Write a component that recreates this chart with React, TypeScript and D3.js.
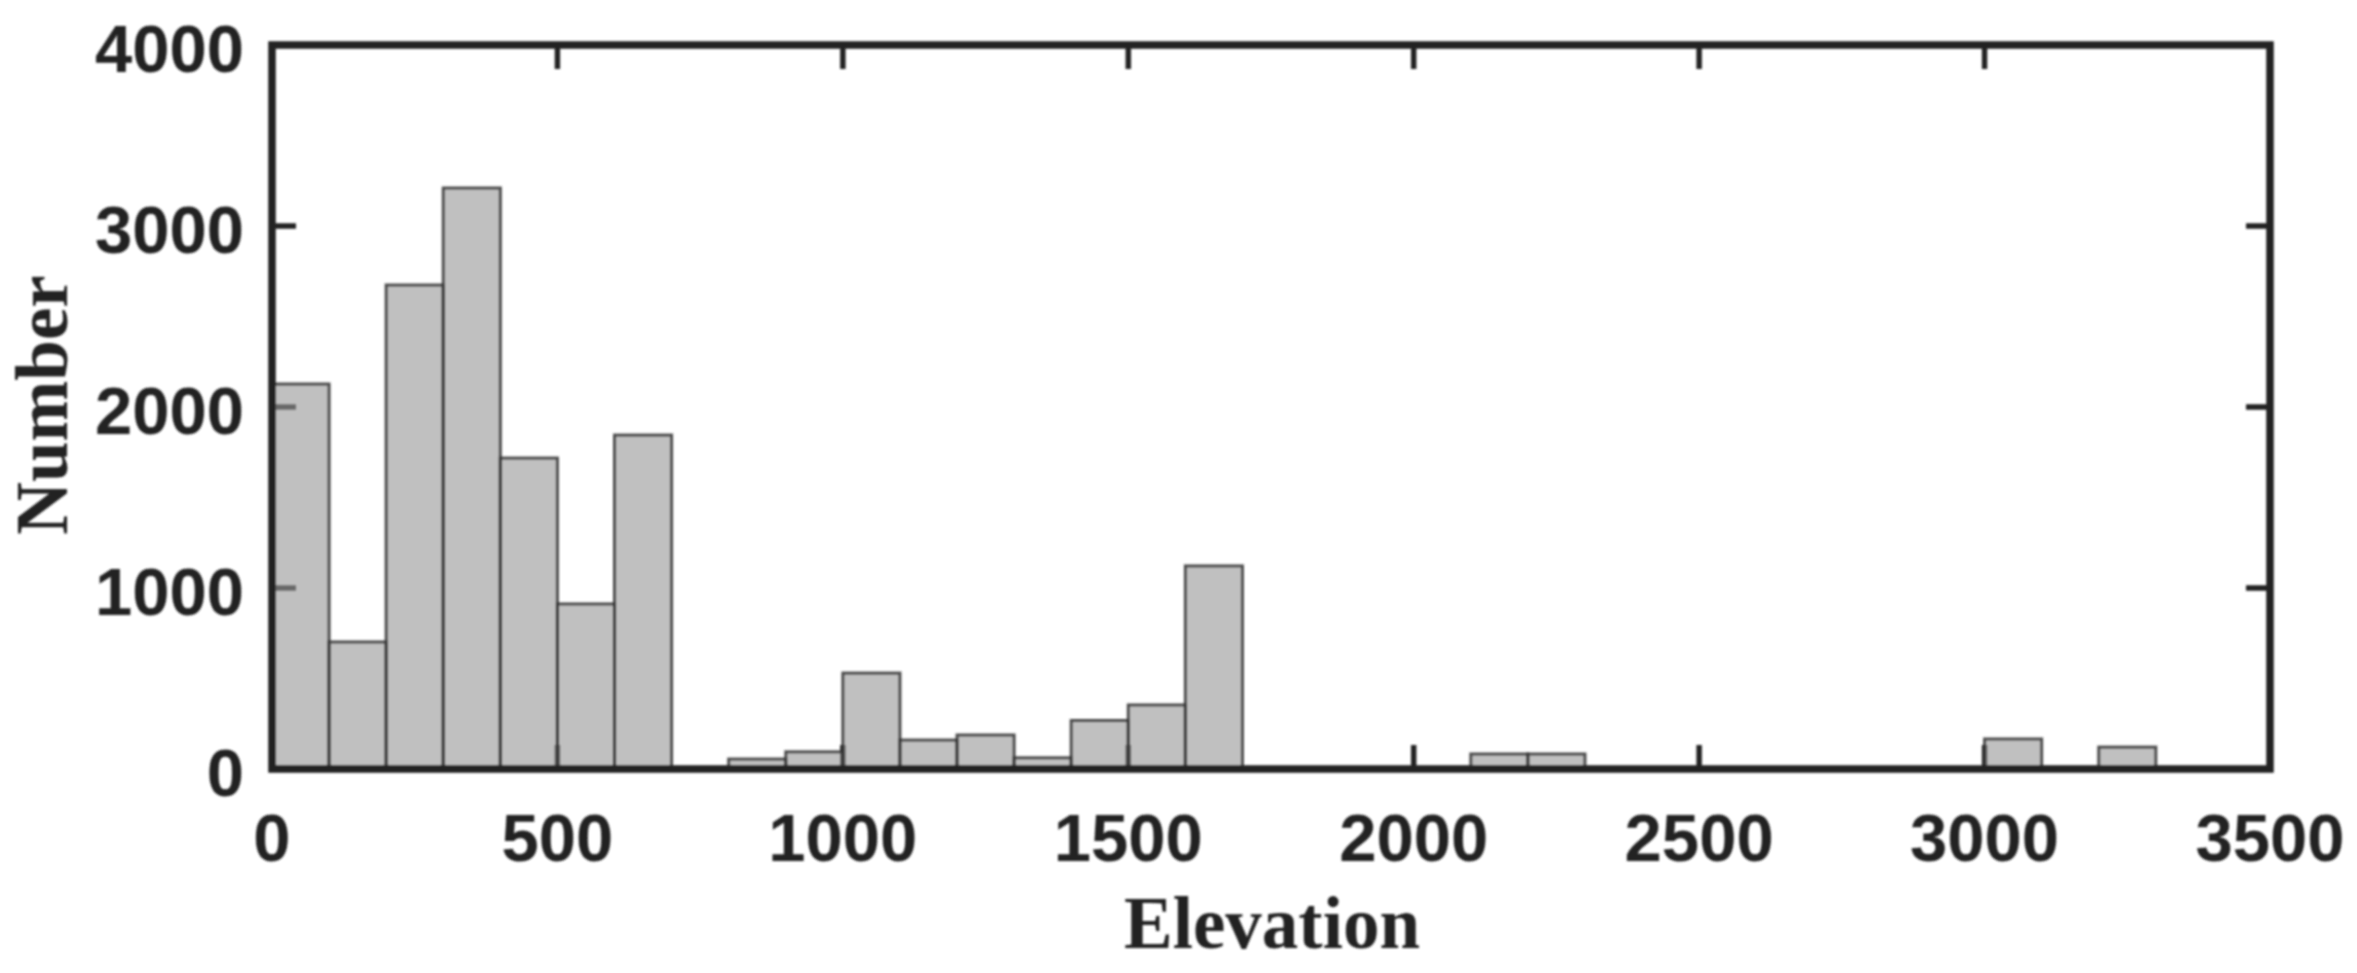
import React from "react";
import * as d3 from "d3";

const width = 2357;
const height = 973;

// histogram, one count per 100 m bin starting at 0
const binWidth = 100;
const counts = [
  2127, 702, 2674, 3210, 1718, 912, 1845, 0, 55, 95, 530, 160, 188, 62, 268, 354, 1122,
  0, 0, 0, 0, 83, 83, 0, 0, 0, 0, 0, 0, 0, 166, 0, 121,
];
const xTicks = [0, 500, 1000, 1500, 2000, 2500, 3000, 3500];
const yTicks = [0, 1000, 2000, 3000, 4000];

const tickFont = '"Liberation Sans", Arial, sans-serif';
const labelFont = '"Liberation Serif", "Times New Roman", serif';
const ink = "#222";

const App: React.FC = () => {
  const x = d3.scaleLinear().domain([0, 3500]).range([272, 2270]);
  const y = d3.scaleLinear().domain([0, 4000]).range([769, 45]);
  const tickLen = 24;

  return (
    <svg
      width={width}
      height={height}
      style={{ position: "absolute", left: 0, top: 0, background: "#fff" }}
    >
      <defs>
        <filter id="soft" x="-2%" y="-2%" width="104%" height="104%">
          <feGaussianBlur stdDeviation="0.8" />
        </filter>
      </defs>
      <g filter="url(#soft)">
        {/* ticks go under the bars, they show through the transparent fill */}
        {xTicks.slice(1, -1).map((t) => (
          <g key={t} stroke={ink} strokeWidth={5.5}>
            <line x1={x(t)} x2={x(t)} y1={y(0)} y2={y(0) - tickLen} />
            <line x1={x(t)} x2={x(t)} y1={y(4000)} y2={y(4000) + tickLen} />
          </g>
        ))}
        {yTicks.slice(1, -1).map((t) => (
          <g key={t} stroke={ink} strokeWidth={5.5}>
            <line x1={x(0)} x2={x(0) + tickLen} y1={y(t)} y2={y(t)} />
            <line x1={x(3500)} x2={x(3500) - tickLen} y1={y(t)} y2={y(t)} />
          </g>
        ))}

        {counts.map((c, i) => (
          <rect
            key={i}
            x={x(i * binWidth)}
            y={y(c)}
            width={x((i + 1) * binWidth) - x(i * binWidth)}
            height={y(0) - y(c)}
            fill="#969696"
            fillOpacity={0.6}
            stroke="#333"
            strokeOpacity={0.85}
            strokeWidth={3}
          />
        ))}

        <rect
          x={x(0)}
          y={y(4000)}
          width={x(3500) - x(0)}
          height={y(0) - y(4000)}
          fill="none"
          stroke={ink}
          strokeWidth={7.5}
        />

        {yTicks.map((t) => (
          <text
            key={t}
            x={244}
            y={y(t) + 3}
            textAnchor="end"
            dominantBaseline="central"
            fontFamily={tickFont}
            fontWeight="bold"
            fontSize={67}
            fill={ink}
          >
            {t}
          </text>
        ))}
        {xTicks.map((t) => (
          <text
            key={t}
            x={x(t)}
            y={837}
            textAnchor="middle"
            dominantBaseline="central"
            fontFamily={tickFont}
            fontWeight="bold"
            fontSize={67}
            fill={ink}
          >
            {t}
          </text>
        ))}

        <text
          x={1272}
          y={948}
          textAnchor="middle"
          fontFamily={labelFont}
          fontWeight="bold"
          fontSize={73}
          fill={ink}
        >
          Elevation
        </text>
        <text
          transform="translate(67,405) rotate(-90)"
          textAnchor="middle"
          fontFamily={labelFont}
          fontWeight="bold"
          fontSize={73}
          fill={ink}
        >
          Number
        </text>
      </g>
    </svg>
  );
};

export default App;
